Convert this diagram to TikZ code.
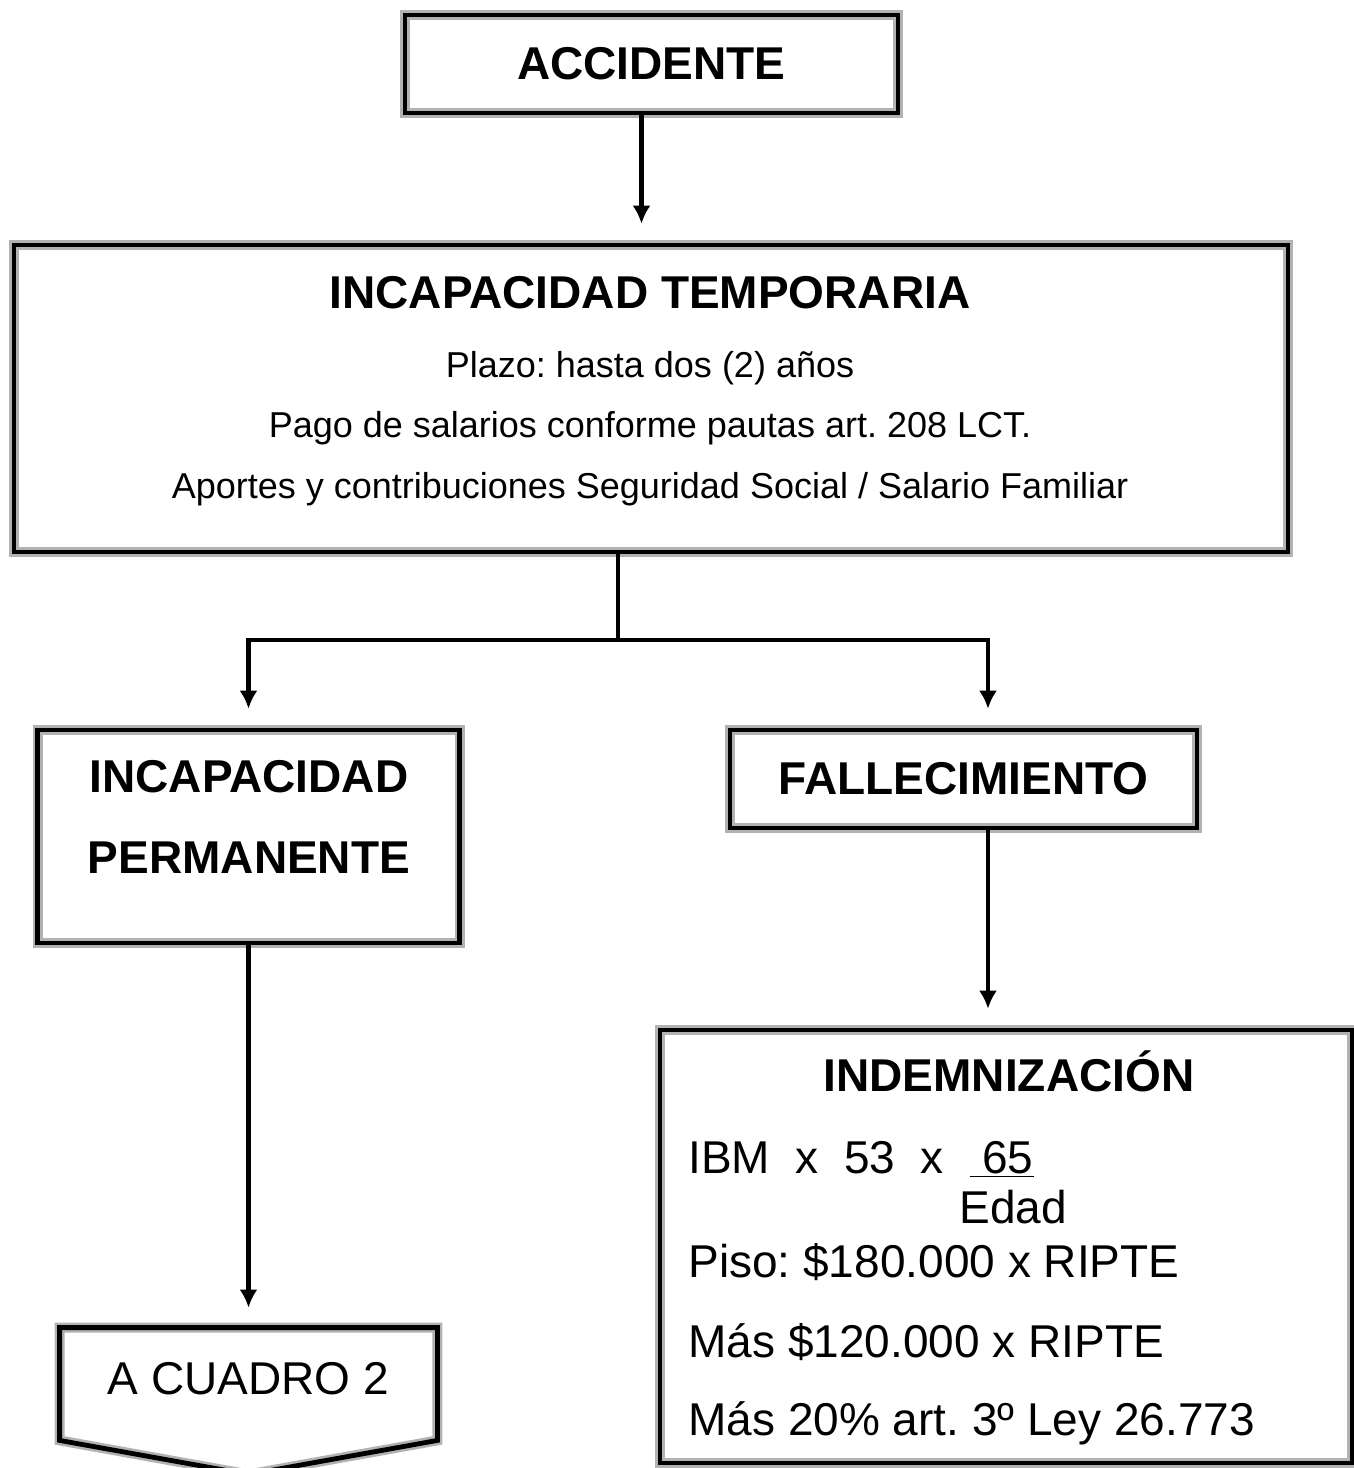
\documentclass[tikz,border=0pt]{standalone}
\usepackage{fontspec}
\setmainfont{Liberation Sans}
\usepackage{tikz}
\usetikzlibrary{arrows.meta,positioning}
\frenchspacing

\begin{document}
\begin{tikzpicture}[x=0.5pt,y=-0.5pt,
    box/.style={draw=gray!60, line width=1.3pt, double=black, double distance=2.4pt, fill=white, inner sep=0pt},
    head/.style={font=\fontsize{23}{27}\selectfont\bfseries},
    body/.style={font=\fontsize{18}{22}\selectfont},
    big/.style={font=\fontsize{23}{27}\selectfont},
    conn/.style={line width=2.4pt},
    arr/.style={conn, -{Latex[length=9pt,width=9pt]}, shorten >=10pt}]
    \useasboundingbox (0,0) rectangle (1354,1468);
    % boxes
    \node[box, head, minimum width=246.5pt, minimum height=49pt] (acc) at (651.5,64) {ACCIDENTE};
    \node[box, minimum width=637pt, minimum height=153.5pt] (temp) at (651,398.5) {};
    \node[head, anchor=base] (temptit) at (650,308) {INCAPACIDAD TEMPORARIA};
    \node[body, anchor=base] (plazo) at (650,377) {Plazo: hasta dos (2) años};
    \node[body, anchor=base] (pago) at (650,437) {Pago de salarios conforme pautas art. 208 LCT.};
    \node[body, anchor=base] (aportes) at (650,498) {Aportes y contribuciones Seguridad Social / Salario Familiar};
    \node[box, minimum width=211pt, minimum height=106.5pt] (perm) at (248.5,836.5) {};
    \node[head, anchor=base] (permA) at (249,792.5) {INCAPACIDAD};
    \node[head, anchor=base] (permB) at (249,873.5) {PERMANENTE};
    \node[box, head, minimum width=233.5pt, minimum height=49pt] (fall) at (963.5,779) {FALLECIMIENTO};
    \node[box, minimum width=346pt, minimum height=216.5pt] (indem) at (1006,1246.5) {};
    \node[head, anchor=base] (indtit) at (1009,1091) {INDEMNIZACIÓN};
    \node[big, anchor=base west, inner sep=0pt] (formula) at (688,1173) {IBM\ \ x\ \ 53\ \ x\ \ \underline{\ 65}};
    \node[big, anchor=base west, inner sep=0pt] (edad) at (959,1223) {Edad};
    \node[big, anchor=base west, inner sep=0pt] (piso) at (688,1277) {Piso: \$180.000 x RIPTE};
    \node[big, anchor=base west, inner sep=0pt] (masA) at (688,1357) {Más \$120.000 x RIPTE};
    \node[big, anchor=base west, inner sep=0pt] (masB) at (688,1435) {Más 20\% art. 3º Ley 26.773};
    \node[big, minimum width=188.5pt, minimum height=56pt, text depth=6pt] (cuadro) at (248.5,1384) {A CUADRO 2};
    \draw[box, fill=none] (cuadro.north west) -- (cuadro.north east) -- (cuadro.south east)
        -- ([yshift=-17pt]cuadro.south) -- (cuadro.south west) -- cycle;
    % connectors
    \coordinate (split) at (618,640);
    \draw[arr] ([xshift=-5pt]acc.south) -- ([xshift=-5pt]acc.south |- temp.north);
    \draw[conn] (split |- temp.south) -- (split);
    \draw[arr] (split) -| (perm);
    \draw[arr] (split) -| ([xshift=12.25pt]fall.north);
    \draw[arr] ([xshift=12.25pt]fall.south) -- ([xshift=12.25pt]fall.south |- indem.north);
    \draw[arr] (perm) -- (cuadro);
\end{tikzpicture}
\end{document}
